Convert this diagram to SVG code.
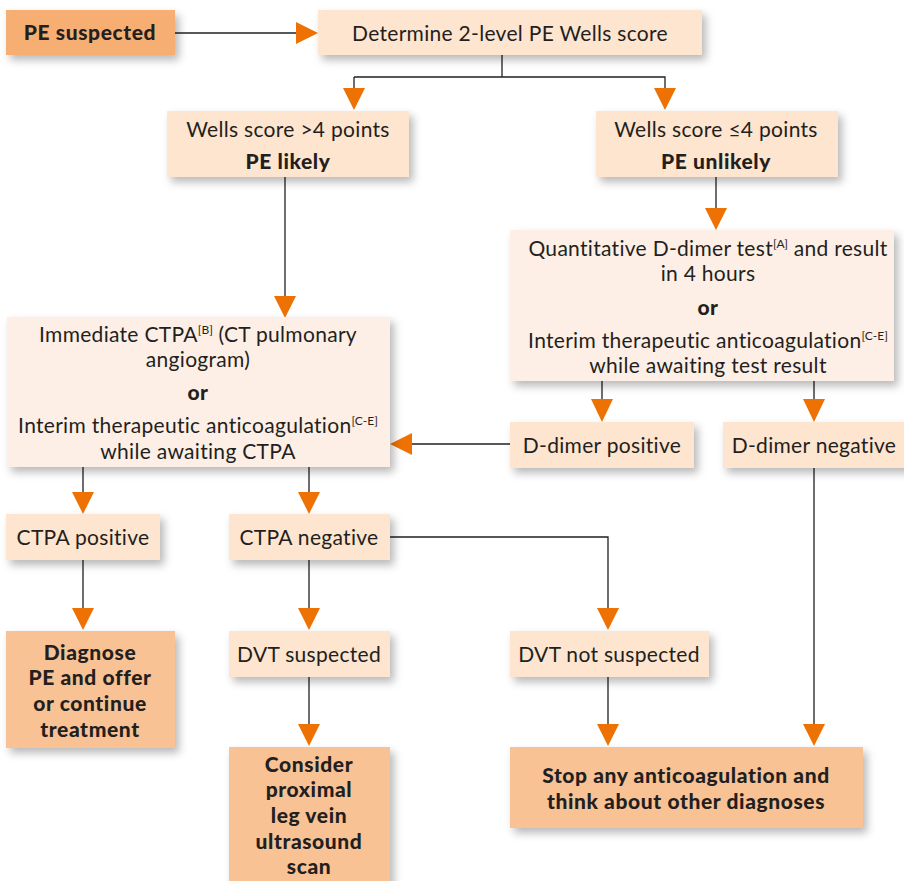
<svg xmlns="http://www.w3.org/2000/svg" width="904" height="881" viewBox="0 0 904 881">
<defs>
<filter id="sh" x="-20%" y="-20%" width="150%" height="160%">
<feDropShadow dx="4" dy="5" stdDeviation="4" flood-color="#000" flood-opacity="0.28"/>
</filter>
<style>
.dark{fill:#F7AE72}
.act{fill:#F9C295}
.lt{fill:#FDE5CF}
.pale{fill:#FDEFE6}
text{font-family:Lato,"Open Sans","Liberation Sans",sans-serif;font-size:21px;letter-spacing:0.3px;fill:#231F20;text-anchor:middle}
.b{font-weight:900;letter-spacing:0.6px}
.sup{font-size:12px;letter-spacing:0}
.ln{stroke:#231F20;stroke-width:1.3;fill:none}
.ah{fill:#EE7203}
</style>
</defs>
<rect width="904" height="881" fill="#fff"/>
<g id="connectors">
<path class="ln" d="M175 33H297"/>
<path class="ah" d="M296 22L318 33L296 44Z"/>
<path class="ln" d="M502 55V77H354M502 77H665V88M354 77V88"/>
<path class="ah" d="M343 88H365L354 110Z"/>
<path class="ah" d="M654 88H676L665 110Z"/>
<path class="ln" d="M285 177V296"/>
<path class="ah" d="M274 296H296L285 318Z"/>
<path class="ln" d="M716 177V209"/>
<path class="ah" d="M705 208H727L716 230Z"/>
<path class="ln" d="M602 381V400M814 381V400"/>
<path class="ah" d="M591 399H613L602 422Z"/>
<path class="ah" d="M803 399H825L814 422Z"/>
<path class="ln" d="M510 444H410"/>
<path class="ah" d="M412 433V455L390 444Z"/>
<path class="ln" d="M83 467V493M309 467V493"/>
<path class="ah" d="M72 492H94L83 514Z"/>
<path class="ah" d="M298 492H320L309 514Z"/>
<path class="ln" d="M390 537H608V609"/>
<path class="ah" d="M597 608H619L608 630Z"/>
<path class="ln" d="M83 560V609M309 560V609"/>
<path class="ah" d="M72 608H94L83 630Z"/>
<path class="ah" d="M298 608H320L309 630Z"/>
<path class="ln" d="M309 677V725M608 677V725M814 467V725"/>
<path class="ah" d="M298 724H320L309 746Z"/>
<path class="ah" d="M597 724H619L608 746Z"/>
<path class="ah" d="M803 724H825L814 746Z"/>
</g>
<g id="pe-suspected"><rect class="dark" x="6" y="10" width="169" height="45" filter="url(#sh)"/><text class="b" x="90" y="40">PE suspected</text></g>
<g id="wells"><rect class="lt" x="318" y="10" width="384" height="45" filter="url(#sh)"/><text x="510" y="41">Determine 2-level PE Wells score</text></g>
<g id="likely"><rect class="lt" x="167" y="111" width="242" height="66" filter="url(#sh)"/><text x="288" y="137">Wells score &gt;4 points</text><text class="b" x="288" y="169">PE likely</text></g>
<g id="unlikely"><rect class="lt" x="596" y="111" width="242" height="66" filter="url(#sh)"/><text x="716" y="137">Wells score ≤4 points</text><text class="b" x="716" y="169">PE unlikely</text></g>
<g id="ddimer-test"><rect class="pale" x="510" y="230" width="384" height="151" filter="url(#sh)"/>
<text x="708" y="256">Quantitative D-dimer test<tspan class="sup" dy="-8">[A]</tspan><tspan dy="8"> and result</tspan></text>
<text x="708" y="281">in 4 hours</text>
<text class="b" x="708" y="315">or</text>
<text x="708" y="348">Interim therapeutic anticoagulation<tspan class="sup" dy="-8">[C-E]</tspan></text>
<text x="708" y="373">while awaiting test result</text></g>
<g id="ctpa"><rect class="pale" x="7" y="317" width="383" height="150" filter="url(#sh)"/>
<text x="198" y="342">Immediate CTPA<tspan class="sup" dy="-8">[B]</tspan><tspan dy="8"> (CT pulmonary</tspan></text>
<text x="198" y="367">angiogram)</text>
<text class="b" x="198" y="400">or</text>
<text x="198" y="433">Interim therapeutic anticoagulation<tspan class="sup" dy="-8">[C-E]</tspan></text>
<text x="198" y="459">while awaiting CTPA</text></g>
<g id="dd-pos"><rect class="lt" x="510" y="422" width="184" height="46" filter="url(#sh)"/><text x="602" y="453">D-dimer positive</text></g>
<g id="dd-neg"><rect class="lt" x="723" y="422" width="190" height="46" filter="url(#sh)"/><text x="814" y="453">D-dimer negative</text></g>
<g id="ctpa-pos"><rect class="lt" x="6" y="514" width="154" height="46" filter="url(#sh)"/><text x="83" y="545">CTPA positive</text></g>
<g id="ctpa-neg"><rect class="lt" x="229" y="514" width="161" height="46" filter="url(#sh)"/><text x="309" y="545">CTPA negative</text></g>
<g id="diagnose"><rect class="act" x="6" y="631" width="169" height="117" filter="url(#sh)"/>
<text class="b" x="90" y="660">Diagnose</text><text class="b" x="90" y="685">PE and offer</text><text class="b" x="90" y="711">or continue</text><text class="b" x="90" y="737">treatment</text></g>
<g id="dvt-s"><rect class="lt" x="229" y="631" width="161" height="46" filter="url(#sh)"/><text x="309" y="662">DVT suspected</text></g>
<g id="dvt-ns"><rect class="lt" x="510" y="631" width="199" height="46" filter="url(#sh)"/><text x="609" y="662">DVT not suspected</text></g>
<g id="consider"><rect class="act" x="229" y="747" width="161" height="140" filter="url(#sh)"/>
<text class="b" x="309" y="772">Consider</text><text class="b" x="309" y="797">proximal</text><text class="b" x="309" y="823">leg vein</text><text class="b" x="309" y="849">ultrasound</text><text class="b" x="309" y="874">scan</text></g>
<g id="stop"><rect class="act" x="510" y="747" width="353" height="81" filter="url(#sh)"/>
<text class="b" x="686" y="783">Stop any anticoagulation and</text><text class="b" x="686" y="809">think about other diagnoses</text></g>
</svg>
